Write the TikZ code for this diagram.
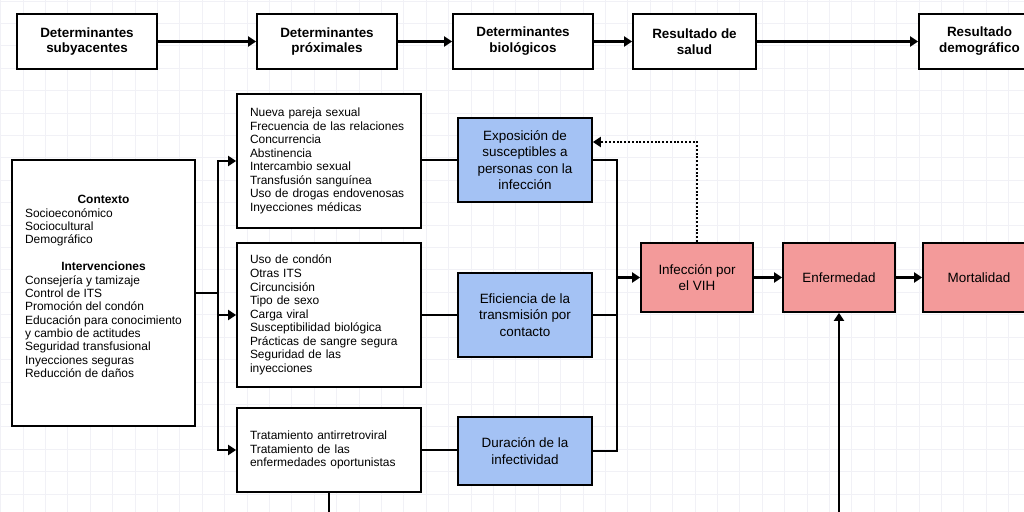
\documentclass[tikz,border=0pt]{standalone}
\usepackage{fontspec}
\setmainfont{Liberation Sans}
\usetikzlibrary{arrows.meta}
\definecolor{bluebox}{RGB}{164,194,244}
\definecolor{pinkbox}{RGB}{243,154,154}
\definecolor{gridc}{RGB}{241,241,246}
\begin{document}
\begin{tikzpicture}[x=1bp,y=-1bp,
  box/.style={draw=black, line width=1.8bp, fill=white, inner sep=0pt},
  headbox/.style={box, minimum height=55bp, font=\bfseries\fontsize{13.5}{16}\selectfont, align=center},
  listbox/.style={box, text width=158bp, inner xsep=13bp, align=left, font=\fontsize{12}{13.6}\selectfont},
  bluebx/.style={box, fill=bluebox, minimum width=134bp, font=\fontsize{13.5}{16.5}\selectfont, align=center},
  pinkbx/.style={box, fill=pinkbox, minimum width=112bp, minimum height=69bp, font=\fontsize{13.5}{16.5}\selectfont, align=center},
  conn/.style={line width=2.1bp},
  arr/.style={conn, -{Triangle[length=8bp,width=10bp]}},
  dotconn/.style={line width=2bp, dash pattern=on 2bp off 1.8bp, -{Triangle[length=8bp,width=10bp]}}
]
\useasboundingbox (0,0) rectangle (1024,512);
\clip (0,0) rectangle (1024,512);
\fill[white] (0,0) rectangle (1024,512);

% background grid
\foreach \i in {0,...,45} \draw[gridc, line width=0.6bp] (0.4+22.4*\i,0) -- ++(0,512);
\foreach \j in {0,...,23} \draw[gridc, line width=0.6bp] (0,1+22.4*\j) -- ++(1024,0);

% top row: stages of the framework
\node[headbox, minimum width=140bp] (sub)  at (87,41.5)    {Determinantes\\subyacentes};
\node[headbox, minimum width=140bp] (prox) at (327,41.5)   {Determinantes\\próximales};
\node[headbox, minimum width=140bp] (bio)  at (523,41.5)   {Determinantes\\biológicos};
\node[headbox, minimum width=123bp] (sal)  at (694.5,41.5) {Resultado de\\salud};
\node[headbox, minimum width=121bp] (dem)  at (979.5,41.5) {Resultado\\demográfico};
\draw[arr] (sub) -- (prox);
\draw[arr] (prox) -- (bio);
\draw[arr] (bio) -- (sal);
\draw[arr] (sal) -- (dem);

% context and interventions
\node[box, minimum width=183bp, minimum height=266bp] (ctx) at (103.5,293) {};
\node[inner sep=0pt, font=\fontsize{12}{13.4}\selectfont] (ctxtext) at (103.5,288) {%
\begin{tabular}{@{}l@{}}
\multicolumn{1}{@{}c@{}}{\textbf{Contexto}}\\
Socioeconómico\\
Sociocultural\\
Demográfico\\[13.4bp]
\multicolumn{1}{@{}c@{}}{\textbf{Intervenciones}}\\
Consejería y tamizaje\\
Control de ITS\\
Promoción del condón\\
Educación para conocimiento\\
y cambio de actitudes\\
Seguridad transfusional\\
Inyecciones seguras\\
Reducción de daños
\end{tabular}};

% proximal determinants
\node[listbox, minimum height=134bp] (p1) at (329,161) {Nueva pareja sexual\\Frecuencia de las relaciones\\Concurrencia\\Abstinencia\\Intercambio sexual\\Transfusión sanguínea\\Uso de drogas endovenosas\\Inyecciones médicas};
\node[listbox, minimum height=144bp] (p2) at (329,315) {Uso de condón\\Otras ITS\\Circuncisión\\Tipo de sexo\\Carga viral\\Susceptibilidad biológica\\Prácticas de sangre segura\\Seguridad de las\\inyecciones};
\node[listbox, minimum height=84bp] (p3) at (329,450) {Tratamiento antirretroviral\\Tratamiento de las\\enfermedades oportunistas};

% biological determinants
\node[bluebx, minimum height=84bp] (b1) at (525,160) {Exposición de\\susceptibles a\\personas con la\\infección};
\node[bluebx, minimum height=84bp] (b2) at (525,315) {Eficiencia de la\\transmisión por\\contacto};
\node[bluebx, minimum height=68bp] (b3) at (525,451) {Duración de la\\infectividad};

% outcomes
\node[pinkbx] (inf) at (697,277.5) {Infección por\\el VIH};
\node[pinkbx] (enf) at (839,277.5) {Enfermedad};
\node[pinkbx] (mor) at (979,277.5) {Mortalidad};

% connectors from context to proximal determinants
\draw[arr] (ctx.east) -- ++(22,0) |- (p1.west);
\draw[arr] (ctx.east) -- ++(22,0) |- (p2.west);
\draw[arr] (ctx.east) -- ++(22,0) |- (p3.west);

% proximal to biological
\draw[conn] (p1.east |- b1.west) -- (b1.west);
\draw[conn] (p2.east) -- (b2.west);
\draw[conn] (p3.east) -- (p3.east -| b3.west);
\coordinate (p3out) at (329,520);
\draw[conn] (p3.south) -- (p3out);

% biological to infection
\coordinate (bus) at (617,277.5);
\draw[conn] (b1.east) -| (bus);
\draw[conn] (b3.east) -| (bus);
\draw[conn] (b2.east) -- (b2.east -| bus);
\draw[arr] (bus) -- (inf.west);

% feedback of infection on exposure
\draw[dotconn] (inf.north) |- ([yshift=18bp]b1.east);

% outcome chain
\draw[arr] (inf) -- (enf);
\draw[arr] (enf) -- (mor);
\coordinate (enfin) at (839,520);
\draw[arr] (enfin) -- (enf.south);
\end{tikzpicture}
\end{document}
